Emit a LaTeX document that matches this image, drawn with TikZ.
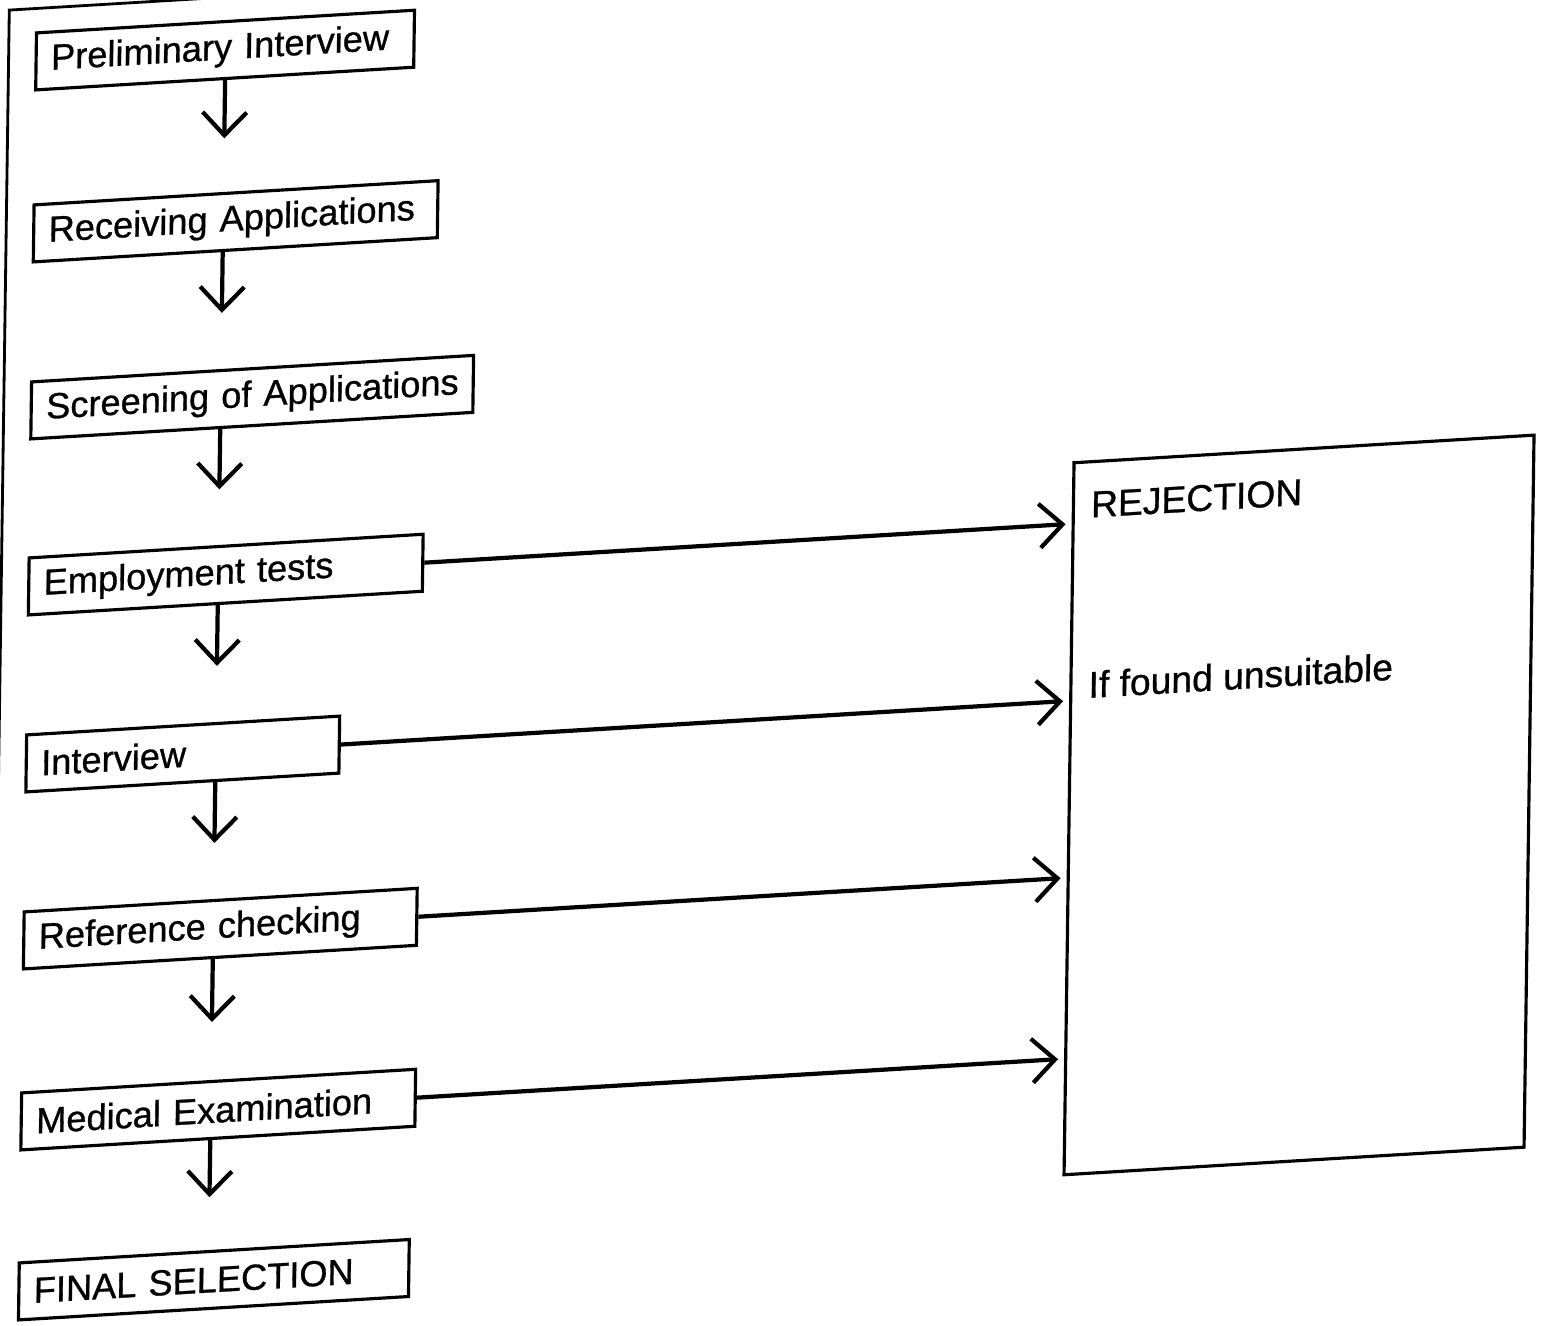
\documentclass[tikz,border=0pt]{standalone}
\usepackage{fontspec}
\setmainfont{Liberation Sans}
\newfontfamily\diagfont{Liberation Sans}[FakeBold=0.8]
\usetikzlibrary{arrows.meta,calc}

\tikzset{
  stage/.style={draw, line width=0.9pt, anchor=west, minimum height=0.57cm,
                inner xsep=0.15cm, inner ysep=0pt, align=left,
                font=\diagfont\fontsize{10.3}{12}\selectfont},
  label/.style={anchor=west, inner sep=0pt, font=\diagfont\fontsize{10.6}{12}\selectfont},
  flow/.style={line width=1.2pt, -{Straight Barb[length=2.3mm,width=4.4mm,line width=1.2pt]}},
}

\begin{document}
\begin{tikzpicture}
  \useasboundingbox (0,0) rectangle (15.51,-13.25);
  \clip (0,0) rectangle (15.51,-13.25);
  % the sheet is slightly skewed, so everything is drawn in a sheared frame
  \begin{scope}[cm={1,0.06,0.014,1,(7,-7)}, transform shape]
    % outer frame (only its top-left corner is on the page)
    \coordinate (frameTL) at (-7.01,7.32);
    \coordinate (frameBL) at (-7.01,-20);
    \coordinate (frameTR) at (20,7.32);
    \draw[line width=0.8pt] (frameBL) -- (frameTL) -- (frameTR);

    % selection stages
    \node[stage, text width=3.48cm] (p1) at (-6.75, 6.79) {\mbox{Preliminary Interview}};
    \node[stage, text width=3.74cm] (p2) at (-6.75, 5.07) {\mbox{Receiving Applications}};
    \node[stage, text width=4.12cm] (p3) at (-6.75, 3.30) {\mbox{Screening of Applications}};
    \node[stage, text width=3.64cm] (p4) at (-6.75, 1.54) {\mbox{Employment tests}};
    \node[stage, text width=2.83cm] (p5) at (-6.75,-0.23) {\mbox{Interview}};
    \node[stage, text width=3.63cm] (p6) at (-6.75,-2.00) {\mbox{Reference checking}};
    \node[stage, text width=3.64cm] (p7) at (-6.75,-3.81) {\mbox{Medical Examination}};
    \node[stage, text width=3.60cm] (p8) at (-6.75,-5.51) {\mbox{FINAL SELECTION}};

    % rejection box
    \node[draw, line width=0.9pt, minimum width=4.6cm, minimum height=7.12cm,
          inner sep=0pt] (rej) at (6.01,-1.41) {};
    \node[label] (rejtitle) at (3.88, 1.72) {REJECTION};
    \node[label] (rejnote) at (3.88,-0.08) {If found unsuitable};

    % downward flow between stages
    \coordinate (col) at (-4.84,0);
    \foreach \a/\b in {p1/p2,p2/p3,p3/p4,p4/p5,p5/p6,p6/p7,p7/p8}{
      \draw[flow] (\a.south -| col) -- ($(\a.south -| col)!0.52!(\b.north -| col)$);
    }

    % branches to rejection
    \foreach \a in {p4,p5,p6,p7}{
      \draw[flow] (\a.east) -- ([xshift=-0.06cm]\a.east -| rej.west);
    }
  \end{scope}
\end{tikzpicture}
\end{document}
